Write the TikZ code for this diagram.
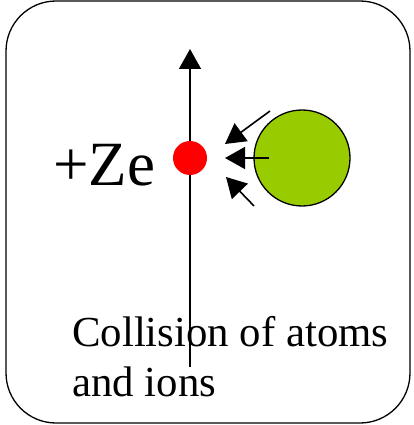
\documentclass[tikz,border=0pt]{standalone}
\usepackage{fontspec}
\setmainfont{Liberation Serif}
\usetikzlibrary{arrows.meta}
\definecolor{atomgreen}{HTML}{99CC00}
\begin{document}
\begin{tikzpicture}[x=1pt,y=-1pt,
  arr/.style={line width=1.5pt,-{Triangle[length=20pt,width=22pt]}},
  small/.style={line width=1.6pt,-{Triangle[length=20pt,width=22pt]}}]
\useasboundingbox (0,0) rectangle (413,425);
\draw[line width=1.3pt,rounded corners=50pt] (6,1) rectangle (410,423);
\coordinate (bot) at (190,367);
\coordinate (top) at (190,49);
\draw[arr] (bot) -- (top);
\node[circle,fill=red,minimum size=34pt,inner sep=0pt] (dot) at (190,158) {};
\node[circle,draw,line width=1.3pt,fill=atomgreen,minimum size=96pt,inner sep=0pt] (atom) at (302,158) {};
\coordinate (a1) at (270,111);
\coordinate (b1) at (225,144);
\coordinate (a2) at (269,158);
\coordinate (b2) at (225,158);
\coordinate (a3) at (254,206);
\coordinate (b3) at (226,177);
\draw[small] (a1) -- (b1);
\draw[small] (a2) -- (b2);
\draw[small] (a3) -- (b3);
\node[anchor=base west,inner sep=0pt,font=\fontsize{63}{70}\selectfont] (ze) at (53,185) {+Ze};
\node[anchor=base west,inner sep=0pt,font=\fontsize{42.8}{50}\selectfont] (l1) at (72,346) {Collision of atoms};
\node[anchor=base west,inner sep=0pt,font=\fontsize{42.8}{50}\selectfont] (l2) at (72,396) {and ions};
\end{tikzpicture}
\end{document}
